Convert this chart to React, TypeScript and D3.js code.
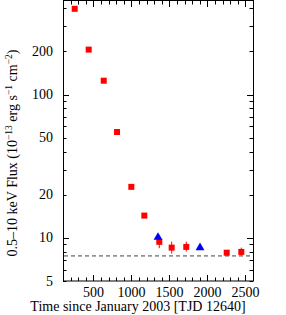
import React, { useEffect, useRef } from 'react';
import * as d3 from 'd3';

// flux decay, red squares (with error bars where visible)
const redTime = [254, 438, 636, 811, 999, 1170, 1367, 1530, 1722, 2254, 2446];
const redFlux = [397, 206, 125, 54.8, 22.7, 14.3, 9.38, 8.55, 8.65, 7.88, 7.98];
const redLow = [397, 206, 125, 54.8, 22.7, 14.3, 8.47, 7.77, 8.02, 7.75, 7.52];
const redHigh = [397, 206, 125, 54.8, 22.7, 14.3, 9.84, 9.42, 9.42, 8.02, 8.55];

// blue triangles
const blueTime = [1350, 1903];
const blueFlux = [10.1, 8.55];

const quiescentLevel = 7.48;

const xTicks = [500, 1000, 1500, 2000, 2500];
const yTicks = [5, 10, 20, 50, 100, 200];

const W = 286;
const H = 315;
const FONT = "'Liberation Serif', 'Times New Roman', Times, serif";

const App = () => {
    const ref = useRef(null);

    useEffect(() => {
        const svg = d3.select(ref.current);
        svg.selectAll('*').remove();

        const left = 63, right = 253, top = 1, bottom = 281;

        const x = d3.scaleLinear().domain([100, 2600]).range([left, right]);
        const y = d3.scaleLog().domain([5, 450]).range([bottom, top]);

        // minor ticks
        const xMinor = d3.range(100, 2601, 100);
        const yMinor = [];
        [1, 10, 100].forEach(dec => {
            for (let k = 1; k < 10; k++) {
                const v = k * dec;
                if (v >= 5 && v <= 450) yMinor.push(v);
            }
        });

        const g = svg.append('g').attr('stroke', '#000').attr('stroke-width', 1);

        // x ticks on bottom and top
        xMinor.forEach(v => {
            const len = v % 500 === 0 ? 6 : 3.5;
            const px = Math.round(x(v)) + 0.5;
            g.append('line').attr('x1', px).attr('x2', px).attr('y1', bottom).attr('y2', bottom - len);
            g.append('line').attr('x1', px).attr('x2', px).attr('y1', top).attr('y2', top + len);
        });

        // y ticks on left and right
        yMinor.forEach(v => {
            const len = (v === 10 || v === 100) ? 6 : 3.5;
            const py = Math.round(y(v)) + 0.5;
            g.append('line').attr('x1', left).attr('x2', left + len).attr('y1', py).attr('y2', py);
            g.append('line').attr('x1', right).attr('x2', right - len).attr('y1', py).attr('y2', py);
        });

        // frame
        svg.append('rect')
            .attr('x', left + 0.5).attr('y', top - 0.5)
            .attr('width', right - left).attr('height', bottom - top + 0.5)
            .attr('fill', 'none').attr('stroke', '#000').attr('stroke-width', 1);

        const txt = sel => sel.style('font-family', FONT).style('font-size', '14px');

        // tick labels
        svg.append('g').selectAll('text').data(xTicks).join('text')
            .attr('x', d => x(d)).attr('y', 297)
            .attr('text-anchor', 'middle')
            .call(txt)
            .text(d => d);

        svg.append('g').selectAll('text').data(yTicks).join('text')
            .attr('x', 53).attr('y', d => y(d) + 4.5)
            .attr('text-anchor', 'end')
            .call(txt)
            .text(d => d);

        // quiescent level
        svg.append('line')
            .attr('x1', left + 1).attr('x2', right)
            .attr('y1', y(quiescentLevel)).attr('y2', y(quiescentLevel))
            .attr('stroke', '#444').attr('stroke-dasharray', '4,3');

        // error bars
        svg.append('g').selectAll('line').data(redTime).join('line')
            .attr('x1', d => x(d)).attr('x2', d => x(d))
            .attr('y1', (d, i) => y(redLow[i])).attr('y2', (d, i) => y(redHigh[i]))
            .attr('stroke', '#ff0000').attr('stroke-width', 1);

        const s = 6;
        svg.append('g').selectAll('rect').data(redTime).join('rect')
            .attr('x', d => x(d) - s / 2)
            .attr('y', (d, i) => y(redFlux[i]) - s / 2)
            .attr('width', s).attr('height', s)
            .attr('fill', '#ff0000');

        const tri = d3.symbol().type(d3.symbolTriangle).size(34);
        svg.append('g').selectAll('path').data(blueTime).join('path')
            .attr('transform', (d, i) => `translate(${x(d)},${y(blueFlux[i])})`)
            .attr('d', tri)
            .attr('fill', '#0000ff');

        // axis titles
        svg.append('text')
            .attr('x', 138).attr('y', 311)
            .attr('text-anchor', 'middle')
            .call(txt)
            .text('Time since January 2003 [TJD 12640]');

        const yl = svg.append('text')
            .attr('transform', 'translate(16.5,153) rotate(-90)')
            .attr('text-anchor', 'middle')
            .call(txt);
        const sup = t => yl.append('tspan').attr('dy', -5).style('font-size', '9.5px').text(t);
        const norm = t => yl.append('tspan').attr('dy', 5).text(t);
        yl.append('tspan').text('0.5–10 keV Flux (10');
        sup('−13');
        norm(' erg s');
        sup('−1');
        norm(' cm');
        sup('−2');
        norm(')');
    }, []);

    return (
        <svg
            ref={ref}
            width={W}
            height={H}
            style={{ position: 'absolute', left: 0, top: 0, background: '#fff' }}
        />
    );
};

export default App;
